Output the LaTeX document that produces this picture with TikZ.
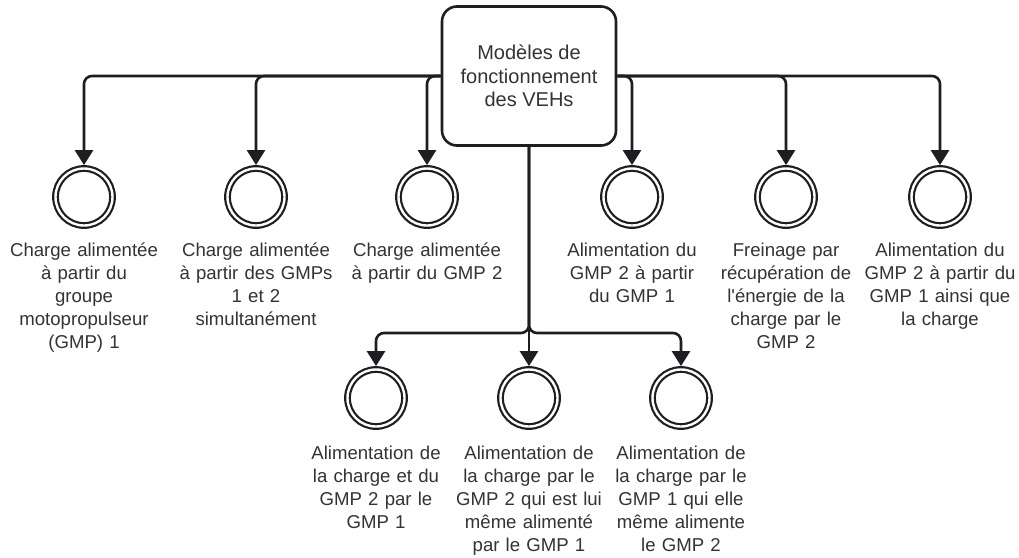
\documentclass[tikz,border=0pt]{standalone}
\usepackage{fontspec}
\setmainfont{Liberation Sans}[Ligatures=TeXOff]
\usetikzlibrary{arrows.meta}
\definecolor{ink}{RGB}{30,30,34}
\definecolor{txt}{RGB}{51,51,51}
\begin{document}
\begin{tikzpicture}[x=1pt,y=-1pt,
  lbl/.style={font=\fontsize{18.6}{23.2}\selectfont, text=txt, align=center, text width=180pt, anchor=base, inner sep=0pt},
  endc/.style={circle, draw=ink, line width=2.2pt, double=white, double distance=2.4pt, minimum size=57pt, inner sep=0pt, outer sep=3.4pt},
  conn/.style={draw=ink, line width=2.6pt, rounded corners=8pt, -{Triangle[width=18pt,length=15pt]}},
  topbox/.style={draw=ink, line width=2.6pt, rounded corners=15pt, minimum width=174pt, minimum height=139pt, inner sep=0pt, font=\fontsize{20}{23.5}\selectfont, text=txt, align=center}
]
\useasboundingbox (0,0) rectangle (1019,557);
\fill[white] (0,0) rectangle (1019,557);

\node[topbox] (box) at (529,76) {Modèles de\\fonctionnement\\des VEHs};

% top row circles
\node[endc] (c1) at (84,197) {};
\node[endc] (c2) at (256,197) {};
\node[endc] (c3) at (427,197) {};
\node[endc] (c4) at (632,197) {};
\node[endc] (c5) at (786,197) {};
\node[endc] (c6) at (940,197) {};
% bottom row circles
\node[endc] (b1) at (376,398) {};
\node[endc] (b2) at (529,398) {};
\node[endc] (b3) at (681,398) {};

\coordinate (j) at (529,333);

% connectors
\draw[conn] (box.west) -| (c1.north);
\draw[conn] (box.west) -| (c2.north);
\draw[conn] (box.west) -| (c3.north);
\draw[conn] (box.east) -| (c4.north);
\draw[conn] (box.east) -| (c5.north);
\draw[conn] (box.east) -| (c6.north);
\draw[conn] (box.south) -- (j) -| (b1.north);
\draw[conn] (box.south) -- (b2.north);
\draw[conn] (box.south) -- (j) -| (b3.north);

% labels
\node[lbl] (l1) at (84,256) {Charge alimentée\\à partir du\\groupe\\motopropulseur\\(GMP) 1};
\node[lbl] (l2) at (256,256) {Charge alimentée\\à partir des GMPs\\1 et 2\\simultanément};
\node[lbl] (l3) at (427,256) {Charge alimentée\\à partir du GMP 2};
\node[lbl] (l4) at (632,256) {Alimentation du\\GMP 2 à partir\\du GMP 1};
\node[lbl] (l5) at (786,256) {Freinage par\\récupération de\\l'énergie de la\\charge par le\\GMP 2};
\node[lbl] (l6) at (940,256) {Alimentation du\\GMP 2 à partir du\\GMP 1 ainsi que\\la charge};
\node[lbl] (m1) at (376,459) {Alimentation de\\la charge et du\\GMP 2 par le\\GMP 1};
\node[lbl] (m2) at (529,459) {Alimentation de\\la charge par le\\GMP 2 qui est lui\\même alimenté\\par le GMP 1};
\node[lbl] (m3) at (681,459) {Alimentation de\\la charge par le\\GMP 1 qui elle\\même alimente\\le GMP 2};
\end{tikzpicture}
\end{document}
